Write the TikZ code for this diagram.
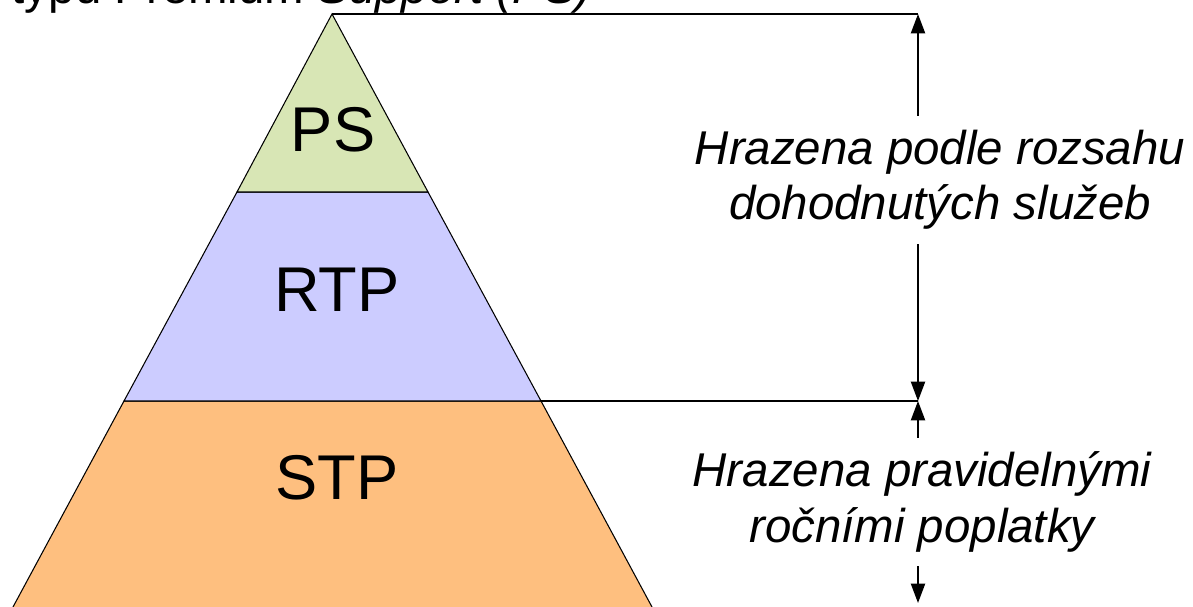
\documentclass[tikz,border=0pt]{standalone}
\usepackage{fontspec}
\setmainfont{Liberation Sans}
\usetikzlibrary{arrows.meta,positioning,calc}
\definecolor{psgreen}{RGB}{216,230,181}
\definecolor{rtpblue}{RGB}{204,204,255}
\definecolor{stporange}{RGB}{254,191,127}
\tikzset{
  layer/.style={draw=black, line width=0.6pt},
  layerlabel/.style={font=\fontsize{36}{42}\selectfont, inner sep=0pt},
  note/.style={font=\fontsize{27}{31.5}\selectfont\itshape, align=center, fill=white,
    inner xsep=4pt, inner ysep=8pt},
  guide/.style={line width=1.1pt},
  span/.style={{Triangle[length=11pt,width=8pt]}-{Triangle[length=11pt,width=8pt]}, line width=1.1pt}
}

\begin{document}
\begin{tikzpicture}[x=0.02cm, y=-0.02cm]
  \useasboundingbox (0,0) rectangle (1193,607);
  % pyramid corners
  \coordinate (apex) at (332,14);
  \coordinate (psl) at (237,192);
  \coordinate (psr) at (428,192);
  \coordinate (rtl) at (124,401);
  \coordinate (rtr) at (541,401);
  \coordinate (stl) at (6,620);
  \coordinate (str) at (659,620);

  \node[anchor=base east, font=\fontsize{27}{31.5}\selectfont] (title) at (598,4)
    {typu Premium \textit{Support (PS)}};

  \filldraw[layer, fill=stporange] (rtl) -- (rtr) -- (str) -- (stl) -- cycle;
  \filldraw[layer, fill=rtpblue] (psl) -- (psr) -- (rtr) -- (rtl) -- cycle;
  \filldraw[layer, fill=psgreen] (apex) -- (psr) -- (psl) -- cycle;

  \node[layerlabel] (ps) at (333,130) {PS};
  \node[layerlabel] (rtp) at (337,290) {RTP};
  \node[layerlabel] (stp) at (337,478) {STP};

  % dimension lines
  \coordinate (top) at (918,14);
  \coordinate (mid) at (918,401);
  \coordinate (bot) at (918,603);
  \draw[guide] (apex) -- (top);
  \draw[guide] (rtr) -- (mid);
  \draw[span] (top) -- (mid);
  \draw[span] (mid) -- (bot);

  \node[note] (upper) at (940,180) {Hrazena podle rozsahu\\dohodnutých služeb};
  \node[note] (lower) at (922,502) {Hrazena pravidelnými\\ročními poplatky};
\end{tikzpicture}
\end{document}
